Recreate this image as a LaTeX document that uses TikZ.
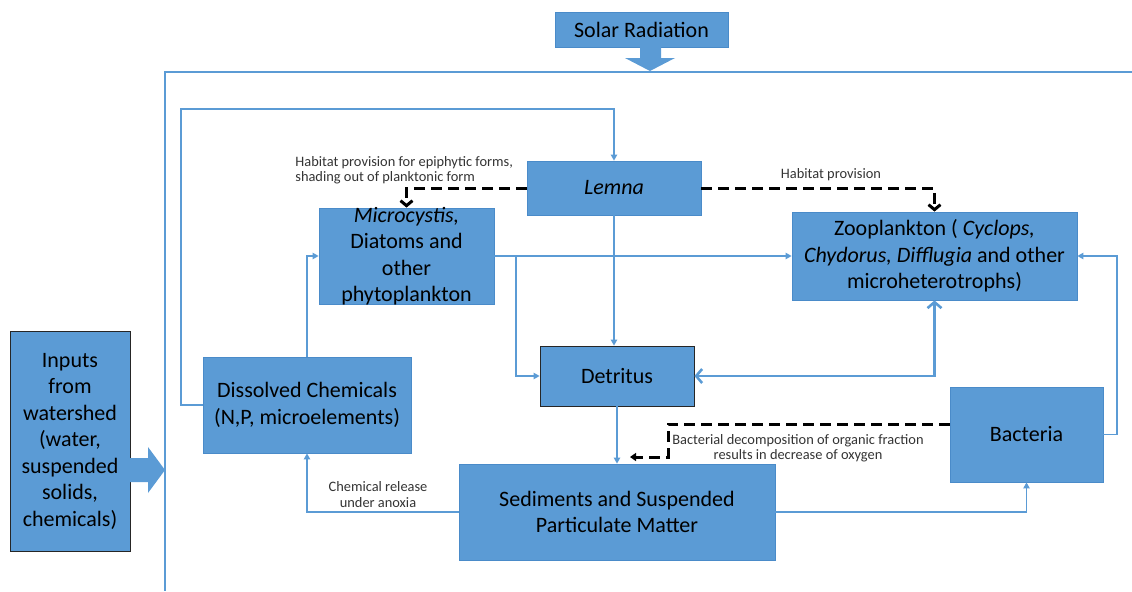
\documentclass[tikz,border=0pt]{standalone}
\usepackage{fontspec}
\setmainfont{Carlito}
\usepackage{tikz}
\usetikzlibrary{arrows.meta,positioning,calc}
\definecolor{boxblue}{HTML}{5B9BD5}
\definecolor{boxedge}{HTML}{4A8BC9}
\definecolor{lineblue}{HTML}{5B9BD5}

\begin{document}
\begin{tikzpicture}[x=0.5pt, y=-0.5pt,
    box/.style={rectangle, draw=boxedge, fill=boxblue, align=center, inner sep=1pt, font=\fontsize{11}{13.25}\selectfont},
    darkbox/.style={box, draw=black!85},
    flow/.style={draw=lineblue, line width=0.6pt, -{Triangle[length=3pt, width=3.2pt]}},
    both/.style={draw=lineblue, line width=1.3pt, {Straight Barb[length=3pt, width=7pt]}-{Straight Barb[length=3pt, width=7pt]}},
    dashflow/.style={draw=black, line width=1.5pt, dash pattern=on 5.5pt off 3pt, -{Straight Barb[length=2.5pt, width=6pt]}},
    dashtri/.style={draw=black, line width=1.5pt, dash pattern=on 5.5pt off 3pt, -{Triangle[length=3pt, width=4pt]}},
    note/.style={font=\fontsize{7.2}{7.7}\selectfont, text=black!80, align=center, inner sep=1pt}]

    \useasboundingbox (0,0) rectangle (1132,591);

    % Frame of the lake
    \draw[lineblue, line width=0.6pt] (1132,72) -| (165,591);

    % Sun and inflow
    \node[box, minimum width=86.5pt, minimum height=17.5pt] (solar) at (641.5,29.5) {Solar Radiation};
    \fill[boxblue] (640,47) -- (661,47) -- (661,58) -- (675,58) -- (650,71) -- (625,58) -- (640,58) -- cycle;
    \node[darkbox, minimum width=60pt, minimum height=110pt] (inputs) at (70,441) {Inputs\\from\\watershed\\(water,\\suspended\\solids,\\chemicals)};
    \fill[boxblue] (130,458) -- (148,458) -- (148,447) -- (165,470) -- (148,493) -- (148,482) -- (130,482) -- cycle;

    % Compartments
    \node[box, minimum width=104pt, minimum height=48pt] (chem) at (307,405) {Dissolved Chemicals\\(N,P, microelements)};
    \node[box, minimum width=87.5pt, minimum height=48pt, inner ysep=-2.5pt] (phyto) at (406.5,256) {\textit{Microcystis,}\\Diatoms and\\other\\phytoplankton};
    \node[box, minimum width=87pt, minimum height=27pt] (lemna) at (614,188) {\textit{Lemna}};
    \node[box, minimum width=142.5pt, minimum height=44pt] (zoo) at (934.5,256) {Zooplankton ( \textit{Cyclops,}\\\textit{Chydorus, Difflugia} and other\\microheterotrophs)};
    \node[darkbox, minimum width=77pt, minimum height=30pt] (detritus) at (617,376) {Detritus};
    \node[box, minimum width=76.5pt, minimum height=47.5pt] (bacteria) at (1026.5,434.5) {Bacteria};
    \node[box, minimum width=158pt, minimum height=48pt] (sediment) at (617,512) {Sediments and Suspended\\Particulate Matter};

    % Flows
    \coordinate (loop) at (181,109);
    \draw[flow] (chem.west) -| (loop) -| (lemna.north);
    \draw[flow] (chem.north) |- (phyto.west);
    \draw[flow] (phyto.east) -- (zoo.west);
    \coordinate (fork) at (516,256);
    \draw[flow] (fork) |- (detritus.west);
    \draw[flow] (lemna.south) -- (lemna.south |- detritus.north);
    \draw[both] (detritus.east) -| (zoo.south);
    \draw[flow] (detritus.south) -- (sediment.north);
    \coordinate (bturn) at (1117,256);
    \draw[flow] (bacteria.east) -| (bturn) -- (zoo.east);
    \draw[flow] (sediment.east) -| (bacteria.south);
    \draw[flow] (sediment.west) -| (chem.south);
    \node[note] (release) at (378,494.5) {Chemical release\\under anoxia};

    % Dashed effects
    \draw[dashflow] (lemna.west) -| (phyto.north);
    \draw[dashflow] (lemna.east) -| (zoo.north);
    \coordinate (oxy) at (668,424);
    \coordinate (oxyend) at (630,457);
    \draw[dashtri] (bacteria.west |- oxy) -- (oxy) |- (oxyend);
    \node[note, anchor=west, align=left] (habnote) at (293,170) {Habitat provision for epiphytic forms,\\shading out of planktonic form};
    \node[note] (habnote2) at (831,175) {Habitat provision};
    \node[note] (oxynote) at (798,448) {Bacterial decomposition of organic fraction\\results in decrease of oxygen};
\end{tikzpicture}
\end{document}
